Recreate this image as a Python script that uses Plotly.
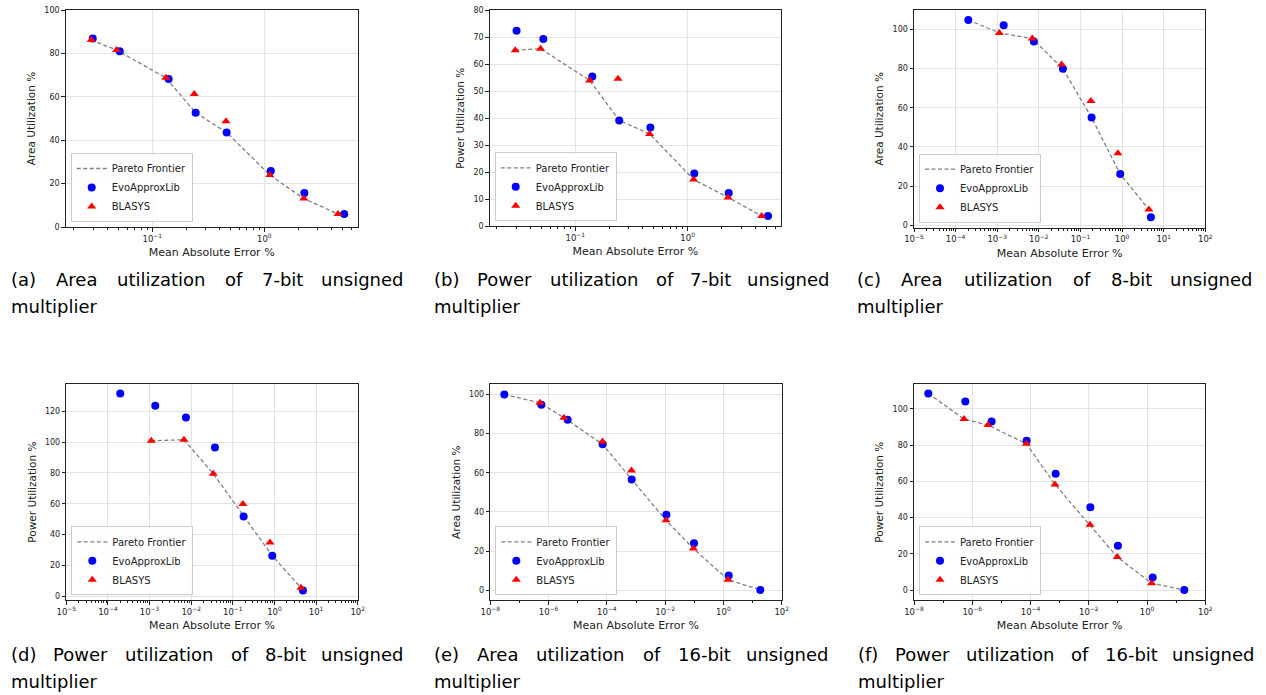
import math
import plotly.graph_objects as go

# ---------------- data ----------------
a_evo_x = [0.0294, 0.0512, 0.140, 0.244, 0.461, 1.144, 2.28, 5.17]
a_evo_y = [86.9, 81.0, 68.2, 52.7, 43.6, 25.8, 15.7, 6.0]
a_bla_x = [0.0285, 0.048, 0.132, 0.237, 0.455, 1.12, 2.25, 4.55]
a_bla_y = [86.2, 81.6, 68.8, 61.3, 48.8, 24.0, 13.1, 6.0]
a_par_x = [0.0285, 0.048, 0.132, 0.244, 0.461, 1.12, 2.25, 4.55]
a_par_y = [86.2, 81.6, 68.8, 52.7, 43.6, 24.0, 13.1, 6.0]

b_evo_x = [0.0300, 0.0519, 0.1416, 0.246, 0.466, 1.146, 2.32, 5.19]
b_evo_y = [72.4, 69.3, 55.4, 39.2, 36.6, 19.5, 12.3, 3.8]
b_bla_x = [0.0292, 0.0491, 0.134, 0.240, 0.459, 1.13, 2.29, 4.56]
b_bla_y = [65.2, 65.7, 54.0, 54.6, 34.2, 17.3, 10.7, 3.8]
b_par_x = [0.0292, 0.0491, 0.134, 0.246, 0.459, 1.13, 2.29, 4.56]
b_par_y = [65.2, 65.7, 54.0, 39.2, 34.2, 17.3, 10.7, 3.8]

c_evo_x = [2.02e-4, 1.43e-3, 7.6e-3, 0.0379, 0.185, 0.903, 4.93]
c_evo_y = [104.9, 102.2, 93.9, 79.9, 55.0, 26.1, 4.1]
c_bla_x = [1.12e-3, 6.95e-3, 0.0352, 0.178, 0.794, 4.41]
c_bla_y = [98.3, 95.4, 82.1, 63.5, 36.8, 8.0]
c_par_x = [2.02e-4, 1.12e-3, 6.95e-3, 0.0379, 0.185, 0.903, 4.41]
c_par_y = [104.9, 98.3, 95.4, 79.9, 55.0, 26.1, 8.0]

d_evo_x = [1.98e-4, 1.37e-3, 7.48e-3, 0.0372, 0.182, 0.887, 4.84]
d_evo_y = [131.7, 123.7, 116.1, 96.6, 51.8, 26.2, 3.7]
d_bla_x = [1.10e-3, 6.70e-3, 0.034, 0.175, 0.78, 4.33]
d_bla_y = [100.9, 101.6, 79.5, 59.8, 34.9, 5.4]
d_par_x = [1.10e-3, 6.70e-3, 0.034, 0.182, 0.887, 4.33]
d_par_y = [100.9, 101.6, 79.5, 51.8, 26.2, 5.4]

e_evo_x = [3.03e-8, 5.64e-7, 4.51e-6, 7.18e-5, 7.10e-4, 0.011, 0.098, 1.52, 18.5]
e_evo_y = [100.0, 94.7, 87.1, 74.5, 56.6, 38.6, 24.0, 7.5, 0.2]
e_bla_x = [5.07e-7, 3.38e-6, 7.1e-5, 7.0e-4, 0.0107, 0.093, 1.44]
e_bla_y = [95.7, 88.1, 75.9, 61.1, 35.7, 21.3, 5.4]
e_par_x = [3.03e-8, 5.07e-7, 3.38e-6, 7.18e-5, 7.10e-4, 0.0107, 0.093, 1.44, 18.5]
e_par_y = [100.0, 95.7, 88.1, 74.5, 56.6, 35.7, 21.3, 5.4, 0.2]

f_evo_x = [3.1e-8, 5.78e-7, 4.63e-6, 7.36e-5, 7.29e-4, 0.0113, 0.100, 1.56, 19.0]
f_evo_y = [108.4, 103.9, 93.0, 82.4, 64.2, 45.7, 24.6, 7.0, 0.2]
f_bla_x = [5.2e-7, 3.47e-6, 7.2e-5, 6.92e-4, 0.011, 0.095, 1.44]
f_bla_y = [94.3, 91.0, 80.7, 58.3, 36.1, 18.3, 3.9]
f_par_x = [3.1e-8, 5.2e-7, 3.47e-6, 7.2e-5, 6.92e-4, 0.011, 0.095, 1.44, 19.0]
f_par_y = [108.4, 94.3, 91.0, 80.7, 58.3, 36.1, 18.3, 3.9, 0.2]

series_names = ["Pareto Frontier", "EvoApproxLib", "BLASYS"]
x_title = "Mean Absolute Error %"
y_titles = ["Area Utilization %", "Power Utilization %", "Area Utilization %",
            "Power Utilization %", "Area Utilization %", "Power Utilization %"]
captions = [
    "(a) Area utilization of 7-bit unsigned multiplier",
    "(b) Power utilization of 7-bit unsigned multiplier",
    "(c) Area utilization of 8-bit unsigned multiplier",
    "(d) Power utilization of 8-bit unsigned multiplier",
    "(e) Area utilization of 16-bit unsigned multiplier",
    "(f) Power utilization of 16-bit unsigned multiplier",
]

# x tick exponents (labels 10^n) per panel
x_tick_exp_ab = [-1, 0]
x_tick_exp_cd = [-5, -4, -3, -2, -1, 0, 1, 2]
x_tick_exp_ef = [-8, -6, -4, -2, 0, 2]

panels = [
    (a_par_x, a_par_y, a_evo_x, a_evo_y, a_bla_x, a_bla_y),
    (b_par_x, b_par_y, b_evo_x, b_evo_y, b_bla_x, b_bla_y),
    (c_par_x, c_par_y, c_evo_x, c_evo_y, c_bla_x, c_bla_y),
    (d_par_x, d_par_y, d_evo_x, d_evo_y, d_bla_x, d_bla_y),
    (e_par_x, e_par_y, e_evo_x, e_evo_y, e_bla_x, e_bla_y),
    (f_par_x, f_par_y, f_evo_x, f_evo_y, f_bla_x, f_bla_y),
]
x_tick_exps = [x_tick_exp_ab, x_tick_exp_ab, x_tick_exp_cd, x_tick_exp_cd,
               x_tick_exp_ef, x_tick_exp_ef]

# ---------------- layout / style ----------------
OFF = 0                      # page body margin is removed (see post_script)
WF, HF = 1266 - OFF, 695 - OFF


def PX(x):
    return (x - OFF) / WF


def PY(y):
    return 1 - (y - OFF) / HF


# plot area in target pixels: x0, x1, y0(top), y1(bottom)
boxes = [
    (65.7, 357.7, 10, 227),
    (489.7, 781, 10, 226.3),
    (914, 1205.3, 10, 227.7),
    (66.3, 357.7, 384, 600.3),
    (490.3, 781.7, 384, 600.3),
    (914, 1205.3, 384, 600.3),
]
xranges = [(-1.773, 0.834), (-1.762, 0.831), (-5, 2), (-5, 2), (-8, 2), (-8, 2)]
yranges = [(0, 100.06), (0, 80.05), (-1.3, 110), (-2.7, 137.8), (-5.1, 105.3), (-5.5, 113.6)]
ydticks = [20, 10, 20, 20, 20, 20]
minor_kind = ["sub", "sub", "sub", "sub", "odd", "odd"]

# caption layout: left x, right x of the justified line, line-1 y, line-2 y
cap_layout = [
    (10, 405, 279, 306),
    (433, 831, 279, 306),
    (856, 1254, 279, 306),
    (10, 405, 654, 681),
    (433, 830, 654, 681),
    (857, 1256, 654, 681),
]
CAP_SIZE = 18
# approximate DejaVu Sans advance widths (em) for justification
CW = {'(': .390, ')': .390, 'a': .613, 'b': .635, 'c': .550, 'd': .635,
      'e': .615, 'f': .352, 'A': .684, 'P': .603, 'r': .411, 'o': .612,
      'w': .818, 'u': .634, 't': .392, 'i': .278, 'l': .278, 'z': .525,
      'n': .634, 's': .521, 'g': .635, '7': .636, '8': .636, '1': .636,
      '6': .636, '-': .361}


def word_w(w):
    return sum(CW.get(ch, .6) for ch in w) * CAP_SIZE


FONT = "DejaVu Sans"
AX_COL = "#222222"
GRID = "#e3e3e3"
TXT = "#222222"

fig = go.Figure()
layout = dict(
    width=WF, height=HF,
    margin=dict(l=0, r=0, t=0, b=0),
    paper_bgcolor="white", plot_bgcolor="white",
    font=dict(family=FONT, color=TXT),
    annotations=[],
)

for i, (px, py, ex, ey, bx, by) in enumerate(panels):
    n = "" if i == 0 else str(i + 1)
    xa, ya = "x" + n, "y" + n
    lg = "legend" + n
    fig.add_trace(go.Scatter(
        x=px, y=py, mode="lines", name=series_names[0], xaxis=xa, yaxis=ya,
        line=dict(color="#808080", dash="4px,2.5px", width=1.3), legend=lg))
    fig.add_trace(go.Scatter(
        x=ex, y=ey, mode="markers", name=series_names[1], xaxis=xa, yaxis=ya,
        marker=dict(color="#0000ff", symbol="circle", size=8), legend=lg))
    fig.add_trace(go.Scatter(
        x=bx, y=by, mode="markers", name=series_names[2], xaxis=xa, yaxis=ya,
        marker=dict(color="#ff0000", symbol="triangle-up", size=8), legend=lg))

    x0, x1, y0, y1 = boxes[i]
    lo, hi = xranges[i]
    exps = x_tick_exps[i]
    tickvals = [10.0 ** e for e in exps]
    ticktext = ["10<sup>%s</sup>" % (str(e).replace("-", "\u2212")) for e in exps]
    minor_vals = []
    for dec in range(math.floor(lo) - 1, math.ceil(hi) + 1):
        if minor_kind[i] == "sub":
            for k in range(2, 10):
                v = k * 10.0 ** dec
                if lo <= math.log10(v) <= hi:
                    minor_vals.append(v)
        else:
            if dec % 2 != 0 and lo <= dec <= hi:
                minor_vals.append(10.0 ** dec)

    common = dict(
        showline=True, linecolor=AX_COL, linewidth=1, mirror=True,
        ticks="outside", ticklen=3.5, tickcolor=AX_COL, tickwidth=1,
        showgrid=True, gridcolor=GRID, gridwidth=1, zeroline=False,
        tickfont=dict(family=FONT, size=8, color=TXT),
        automargin=False, ticklabeloverflow="allow",
    )
    layout["xaxis" + n] = dict(
        common, type="log", domain=[PX(x0), PX(x1)], anchor=ya,
        range=[lo, hi], tickmode="array", tickvals=tickvals, ticktext=ticktext,
        tickfont=dict(family=FONT, size=8.5, color=TXT),
        minor=dict(ticks="outside", ticklen=2, tickcolor=AX_COL,
                   tickmode="array", tickvals=minor_vals, showgrid=False),
        title=dict(text=x_title, font=dict(family=FONT, size=11, color=TXT),
                   standoff=5),
    )
    layout["yaxis" + n] = dict(
        common, domain=[PY(y1), PY(y0)], anchor=xa,
        range=list(yranges[i]), dtick=ydticks[i],
        title=dict(text=y_titles[i], font=dict(family=FONT, size=10.5, color=TXT),
                   standoff=6),
    )
    layout[lg] = dict(
        x=PX(x0 + 5), y=PY(y1 - 5), xanchor="left", yanchor="bottom",
        xref="paper", yref="paper",
        bgcolor="rgba(255,255,255,0.85)", bordercolor="#cccccc", borderwidth=1,
        font=dict(family=FONT, size=10, color=TXT),
        tracegroupgap=0, itemwidth=30,
    )

    # caption words: justified first line + second line
    words = captions[i].split(" ")
    left, right, ly1, ly2 = cap_layout[i]
    first_line = words[:6]
    rest = " ".join(words[6:])
    widths = [word_w(w) for w in first_line]
    gap = (right - left - sum(widths)) / (len(first_line) - 1)
    capfont = dict(family=FONT, size=CAP_SIZE, color="black")
    cur = left
    for j, w in enumerate(first_line):
        if j == len(first_line) - 1:
            xp, anc = right, "right"
        else:
            xp, anc = cur, "left"
        layout["annotations"].append(dict(
            text=w, x=PX(xp), y=PY(ly1), xref="paper", yref="paper",
            xanchor=anc, yanchor="middle", showarrow=False, font=capfont,
            borderpad=0))
        cur += widths[j] + gap
    layout["annotations"].append(dict(
        text=rest, x=PX(left), y=PY(ly2), xref="paper", yref="paper",
        xanchor="left", yanchor="middle", showarrow=False, font=capfont,
        borderpad=0))

fig.update_layout(**layout)
fig.write_html("out.html",
               config={"displayModeBar": False},
               post_script="document.body.style.margin='0px';"
                           "document.body.style.overflow='hidden';")
